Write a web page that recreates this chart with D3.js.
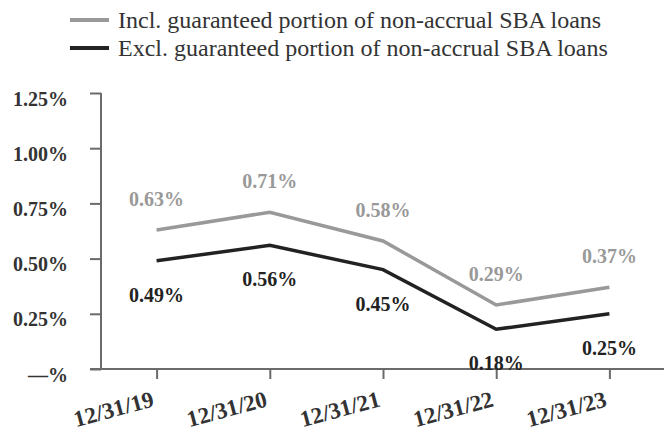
<!DOCTYPE html>
<html lang="en">
<head>
<meta charset="utf-8">
<title>Non-accrual loans ratio</title>
<script src="https://cdn.jsdelivr.net/npm/d3@7"></script>
<style>
  body { margin: 0; background: #fff; }
  svg, svg text { font-family: "Liberation Serif", "Times New Roman", serif; }
  .axis path, .axis line { stroke: #6b6b6b; stroke-width: 2; fill: none; }
  .axis text { font-weight: bold; fill: #333; }
</style>
</head>
<body>
<script>
var dates = ["12/31/19", "12/31/20", "12/31/21", "12/31/22", "12/31/23"];
var incl = [0.63, 0.71, 0.58, 0.29, 0.37];
var excl = [0.49, 0.56, 0.45, 0.18, 0.25];
var yTicks = [0, 0.25, 0.5, 0.75, 1.0, 1.25];
var seriesNames = ["Incl. guaranteed portion of non-accrual SBA loans",
                   "Excl. guaranteed portion of non-accrual SBA loans"];
var colors = ["#999999", "#222222"];

var W = 664, H = 432;
var svg = d3.select("body").append("svg")
  .attr("width", W).attr("height", H);

var x = d3.scalePoint().domain(dates).range([100, 666]).padding(0.5);
var y = d3.scaleLinear().domain([0, 1.25]).range([369, 93]);

// y axis
var yAxis = svg.append("g")
  .attr("class", "axis")
  .attr("transform", "translate(101,0)")
  .call(d3.axisLeft(y).tickValues(yTicks).tickSize(11).tickPadding(22)
    .tickFormat(function(d) { return d === 0 ? "\u2014%" : d3.format(".2f")(d) + "%"; }));
yAxis.attr("font-family", null);
yAxis.select(".domain").attr("d", "M0," + y(1.25) + "V" + y(0));
yAxis.selectAll("text").attr("dy", "0.6em").attr("font-size", "20px");

// x axis
var xAxis = svg.append("g")
  .attr("class", "axis")
  .attr("transform", "translate(0," + y(0) + ")")
  .call(d3.axisBottom(x).tickSize(10).tickSizeOuter(0));
xAxis.attr("font-family", null);
xAxis.select(".domain").attr("d", "M90,0H664");
xAxis.selectAll("text")
  .attr("text-anchor", "end")
  .attr("dy", null)
  .attr("y", null)
  .attr("font-size", "23px")
  .attr("transform", "translate(-2,37) rotate(-15)");

// lines
var line = d3.line()
  .x(function(d, i) { return x(dates[i]); })
  .y(function(d) { return y(d); });

[incl, excl].forEach(function(s, k) {
  svg.append("path")
    .datum(s)
    .attr("d", line)
    .attr("fill", "none")
    .attr("stroke", colors[k])
    .attr("stroke-width", 3.5);
});

// data labels
svg.append("g").selectAll("text")
  .data(incl).enter().append("text")
  .attr("x", function(d, i) { return x(dates[i]); })
  .attr("y", function(d) { return y(d) - 24; })
  .attr("text-anchor", "middle")
  .attr("font-weight", "bold")
  .attr("font-size", "20px")
  .attr("fill", colors[0])
  .text(function(d) { return d.toFixed(2) + "%"; });

svg.append("g").selectAll("text")
  .data(excl).enter().append("text")
  .attr("x", function(d, i) { return x(dates[i]); })
  .attr("y", function(d) { return y(d) + 41; })
  .attr("text-anchor", "middle")
  .attr("font-weight", "bold")
  .attr("font-size", "20px")
  .attr("fill", colors[1])
  .text(function(d) { return d.toFixed(2) + "%"; });

// legend
var legend = svg.append("g").selectAll("g")
  .data(seriesNames).enter().append("g")
  .attr("transform", function(d, i) { return "translate(70," + (20 + i * 28) + ")"; });
legend.append("line")
  .attr("x1", 0).attr("x2", 39)
  .attr("stroke", function(d, i) { return colors[i]; })
  .attr("stroke-width", 4);
legend.append("text")
  .attr("x", 48).attr("y", 8)
  .attr("font-size", "24px")
  .attr("fill", "#333")
  .text(function(d) { return d; });
</script>
</body>
</html>
